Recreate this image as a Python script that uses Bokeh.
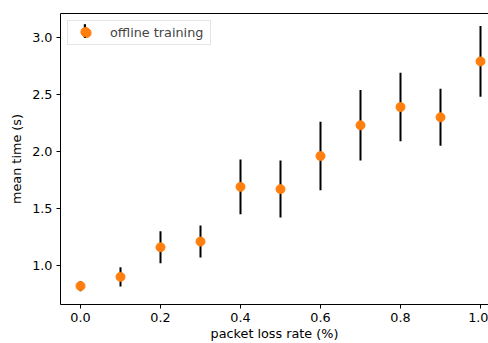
import math
from bokeh.plotting import figure
from bokeh.models import (Range1d, FixedTicker, PrintfTickFormatter, LinearAxis,
                          Legend, LegendItem, ColumnDataSource)
from bokeh.embed import file_html
from bokeh.resources import INLINE

# data
loss_rate = [0.0, 0.1, 0.2, 0.3, 0.4, 0.5, 0.6, 0.7, 0.8, 0.9, 1.0]
mean_time = [0.82, 0.90, 1.16, 1.21, 1.69, 1.67, 1.96, 2.23, 2.39, 2.30, 2.79]
err = [0.045, 0.085, 0.14, 0.14, 0.24, 0.25, 0.30, 0.31, 0.30, 0.25, 0.31]
x_ticks = [0.0, 0.2, 0.4, 0.6, 0.8, 1.0]
y_ticks = [1.0, 1.5, 2.0, 2.5, 3.0]
series_label = "offline training"

FONT = "DejaVu Sans"
FS = "12.8px"
W, H = 488, 343
B_LEFT, B_TOP, B_BOTTOM = 60, 13, 39
FRAME_H = H - B_TOP - B_BOTTOM

src = ColumnDataSource(dict(
    x=loss_rate, y=mean_time,
    lo=[m - e for m, e in zip(mean_time, err)],
    hi=[m + e for m, e in zip(mean_time, err)],
))

p = figure(width=W, height=H, output_backend="svg", toolbar_location=None,
           x_range=Range1d(-0.05, 1.02), y_range=Range1d(0.658, 3.21),
           min_border_left=B_LEFT, min_border_right=0, min_border_top=B_TOP,
           min_border_bottom=B_BOTTOM)
p.outline_line_color = None
p.xgrid.visible = False
p.ygrid.visible = False
p.background_fill_color = "white"
p.border_fill_color = "white"

seg = p.segment(x0="x", y0="lo", x1="x", y1="hi", source=src,
                line_color="black", line_width=2)
pts = p.scatter(x="x", y="y", source=src, size=9, marker="circle",
                fill_color="#ff7f0e", line_color="#ff7f0e")
# off-range stand-in used only for the legend's error-bar stroke
bar_key = p.vbar(x=[-10], top=[-10], bottom=[-11], width=0.01,
                 fill_color="black", line_color=None)

for ax in (p.xaxis[0], p.yaxis[0]):
    ax.major_tick_in = 0
    ax.major_tick_out = 4
    ax.minor_tick_line_color = None
    ax.major_label_text_font = FONT
    ax.major_label_text_font_size = FS
    ax.major_label_text_color = "black"
    ax.major_label_text_line_height = 1.0
    ax.axis_label_text_font = FONT
    ax.axis_label_text_font_size = FS
    ax.axis_label_text_font_style = "normal"
    ax.axis_label_text_color = "black"
    ax.axis_label_text_line_height = 1.0
    ax.axis_line_color = "black"
    ax.major_tick_line_color = "black"
    ax.major_label_standoff = 4

p.xaxis.ticker = FixedTicker(ticks=x_ticks)
p.yaxis.ticker = FixedTicker(ticks=y_ticks)
p.xaxis.formatter = PrintfTickFormatter(format="%.1f")
p.yaxis.formatter = PrintfTickFormatter(format="%.1f")
p.xaxis.axis_label = "packet loss rate (%)"
p.yaxis.axis_label = "mean time (s)"
p.xaxis.axis_label_standoff = 1
p.yaxis.axis_label_standoff = 5

top = LinearAxis(ticker=FixedTicker(ticks=[]), major_label_text_font_size="0px",
                 major_tick_line_color=None, minor_tick_line_color=None,
                 axis_line_color="black")
p.add_layout(top, "above")

common = dict(location="top_left", margin=7, padding=0, spacing=0,
              glyph_width=36, glyph_height=23, label_standoff=6, label_width=100,
              label_text_font=FONT, label_text_font_size=FS)

# legend frame + label + marker
leg_a = Legend(items=[LegendItem(label=series_label, renderers=[pts])],
               border_line_color="#cccccc", border_line_width=1,
               background_fill_color="white", background_fill_alpha=0.8, **common)
p.add_layout(leg_a, "center")

# vertical error-bar stroke in the legend key
leg_b = Legend(items=[LegendItem(label=" ", renderers=[bar_key])],
               location=(23, FRAME_H - 9 - 17), margin=0, padding=0, spacing=0,
               glyph_width=3, glyph_height=17, label_standoff=0, label_width=1,
               label_text_alpha=0, border_line_color=None, background_fill_alpha=0)
p.add_layout(leg_b, "center")

# marker drawn again on top of the stroke
leg_c = Legend(items=[LegendItem(label=series_label, renderers=[pts])],
               border_line_color=None, background_fill_alpha=0,
               label_text_alpha=0, **common)
p.add_layout(leg_c, "center")

open("out.html", "w").write(file_html(p, INLINE))
